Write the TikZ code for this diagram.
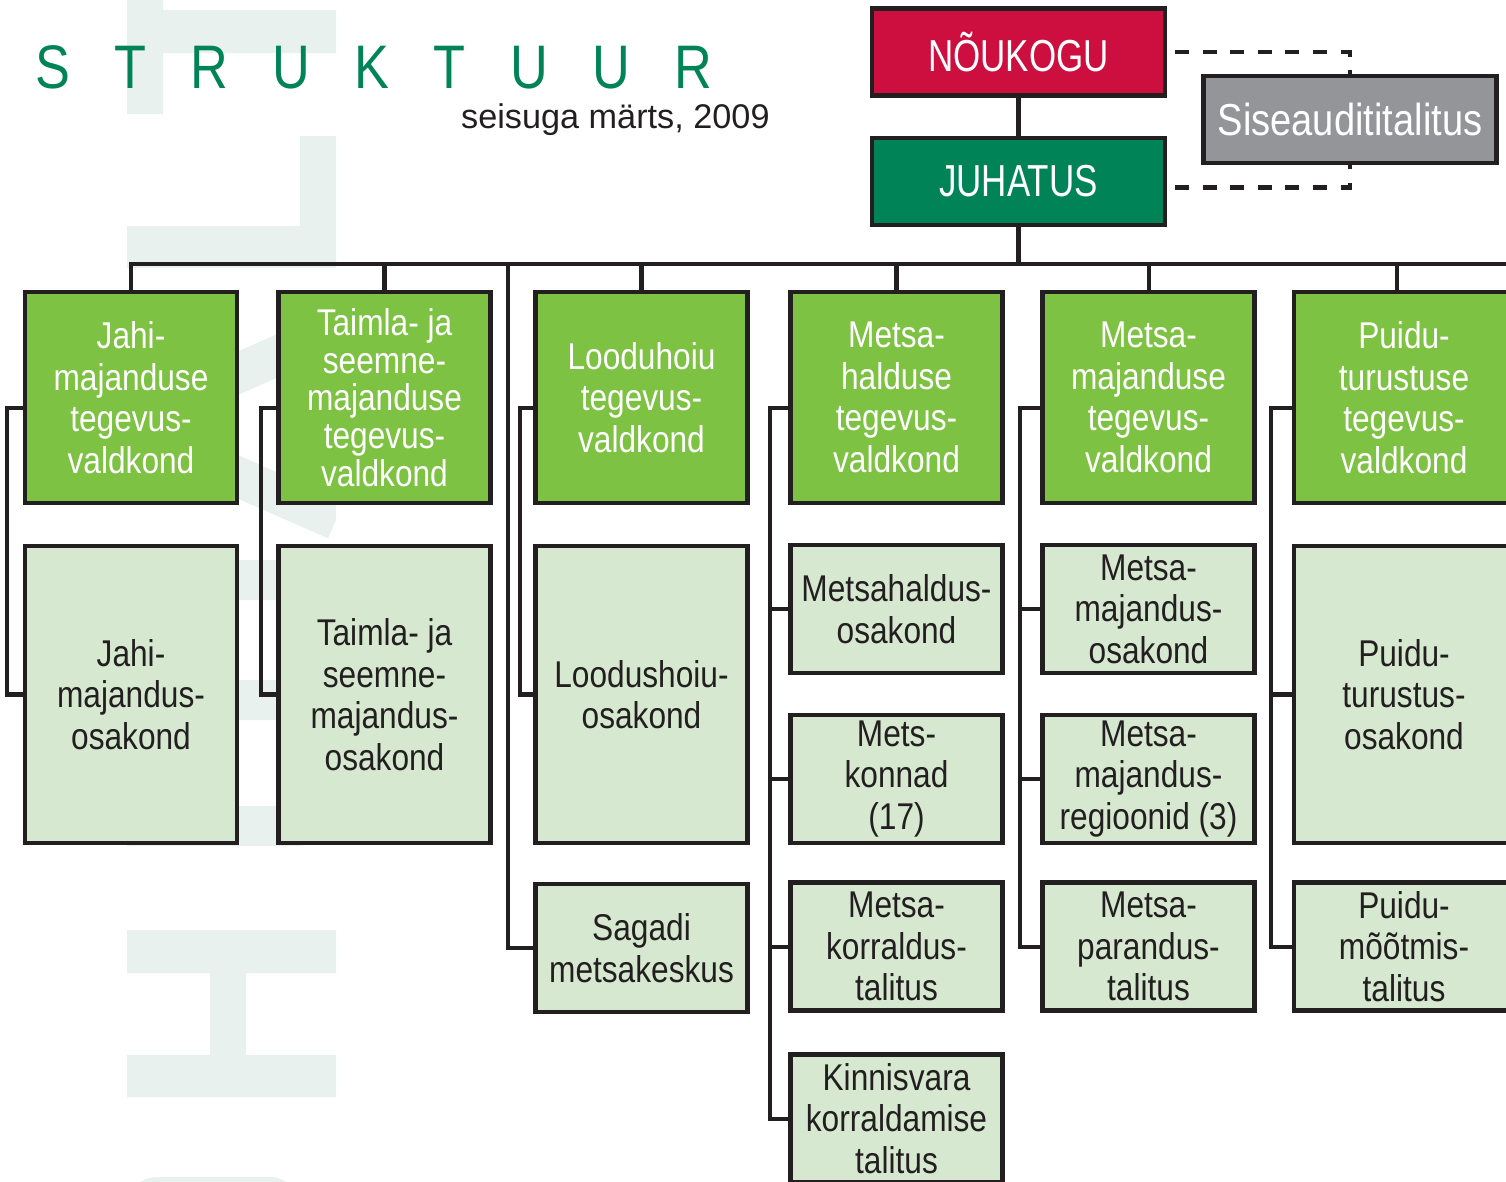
\documentclass[tikz,border=0pt]{standalone}
\usepackage{fontspec}
\setmainfont{Liberation Sans}
\newfontfamily\boxfont{Liberation Sans}[FakeStretch=0.85]
\newfontfamily\capsfont{Liberation Sans}[FakeStretch=0.78]
\newfontfamily\titlefont{Liberation Sans}[FakeStretch=0.85,LetterSpace=72]
\usetikzlibrary{positioning}
\definecolor{ink}{HTML}{231F20}
\definecolor{leaf}{HTML}{7DC242}
\definecolor{pale}{HTML}{D6E9D0}
\definecolor{forest}{HTML}{008457}
\definecolor{rmkred}{HTML}{CC0F3F}
\definecolor{steel}{HTML}{939598}
\definecolor{wmark}{HTML}{E8F1EE}
\tikzstyle{lead} = [draw=ink, line width=2.4pt, fill=leaf, text=white, minimum width=4.24cm, minimum height=4.22cm, inner sep=0pt, align=center, font=\boxfont\fontsize{21.2}{23.6}\selectfont]
\tikzstyle{dept} = [draw=ink, line width=2.4pt, fill=pale, text=ink, minimum width=4.24cm, minimum height=2.56cm, inner sep=0pt, align=center, font=\boxfont\fontsize{21.2}{23.6}\selectfont]
\tikzstyle{tall} = [dept, minimum height=5.94cm]
\tikzstyle{board} = [draw=ink, line width=2.4pt, text=white, minimum width=5.86cm, minimum height=1.74cm, inner sep=0pt, font=\capsfont\fontsize{25.5}{28}\selectfont]
\tikzstyle{link} = [draw=ink, line width=2.3pt]
\tikzstyle{audit} = [link, dash pattern=on 8pt off 7.7pt]

\begin{document}
\begin{tikzpicture}[x=0.02cm, y=-0.02cm]
    \useasboundingbox (0,0) rectangle (1506,1181);

    % Faint lettering behind the chart
    \begin{scope}
      \clip (127,0) rectangle (336,1181);
      \fill[wmark] (127,0) rectangle (163,114) (163,10) rectangle (336,53);
      \fill[wmark] (300,136) rectangle (336,226) (127,226) rectangle (336,268);
      \draw[wmark, line width=0.8cm] (336,330) -- (120,425) -- (336,520);
      \draw[wmark, line width=0.8cm, rounded corners=0.4cm] (336,580) -- (147,580) -- (147,700) -- (316,700) -- (316,826) -- (127,826);
      \fill[wmark] (127,930) rectangle (336,973) (127,1055) rectangle (336,1097) (210,973) rectangle (246,1055);
      \fill[wmark, rounded corners=0.6cm] (127,1177) rectangle (300,1260);
    \end{scope}

    % Heading
    \node[anchor=base west, inner sep=0pt, text=forest, font=\titlefont\fontsize{35}{35}\selectfont] (title) at (35,88) {STRUKTUUR};
    \node[anchor=base east, inner sep=0pt, text=ink, font=\fontsize{19.5}{20}\selectfont] (date) at (770,128) {seisuga märts, 2009};

    % Place nodes
    \node[board, fill=rmkred] (noukogu) at (1018.5,52) {NÕUKOGU};
    \node[board, fill=forest] (juhatus) at (1018.5,181.5) {JUHATUS};
    \node[board, fill=steel, font=\boxfont\fontsize{25.5}{28}\selectfont] (siseaudit) at (1350,119.5) {Siseaudititalitus};

    \node[lead] (jahi) at (131,397.5) {Jahi-\\majanduse\\tegevus-\\valdkond};
    \node[lead, font=\boxfont\fontsize{21.2}{21.5}\selectfont] (taimla) at (384.5,397.5) {Taimla- ja\\seemne-\\majanduse\\tegevus-\\valdkond};
    \node[lead] (looduhoiu) at (641.5,397.5) {Looduhoiu\\tegevus-\\valdkond};
    \node[lead] (metsahaldus) at (896.5,397.5) {Metsa-\\halduse\\tegevus-\\valdkond};
    \node[lead] (metsamaj) at (1148.5,397.5) {Metsa-\\majanduse\\tegevus-\\valdkond};
    \node[lead, minimum width=4.4cm] (puidu) at (1404,397.5) {Puidu-\\turustuse\\tegevus-\\valdkond};

    \node[tall] (jahiosak) at (131,694.5) {Jahi-\\majandus-\\osakond};
    \node[tall] (taimlaosak) at (384.5,694.5) {Taimla- ja\\seemne-\\majandus-\\osakond};
    \node[tall] (loodusosak) at (641.5,694.5) {Loodushoiu-\\osakond};
    \node[dept] (sagadi) at (641.5,948) {Sagadi\\metsakeskus};
    \node[dept] (haldosak) at (896.5,609) {Metsahaldus-\\osakond};
    \node[dept] (metskonnad) at (896.5,779) {Mets-\\konnad\\(17)};
    \node[dept] (korraldus) at (896.5,946.5) {Metsa-\\korraldus-\\talitus};
    \node[dept] (kinnisvara) at (896.5,1118.5) {Kinnisvara\\korraldamise\\talitus};
    \node[dept] (majosak) at (1148.5,609) {Metsa-\\majandus-\\osakond};
    \node[dept] (regioonid) at (1148.5,779) {Metsa-\\majandus-\\regioonid (3)};
    \node[dept] (parandus) at (1148.5,946.5) {Metsa-\\parandus-\\talitus};
    \node[tall, minimum width=4.4cm] (turustosak) at (1404,694.5) {Puidu-\\turustus-\\osakond};
    \node[dept, minimum width=4.4cm] (mootmis) at (1404,946.5) {Puidu-\\mõõtmis-\\talitus};

    % Draw edges
    \coordinate (busend) at (1520,264);
    \coordinate (sagadibus) at (508,264);
    \path[link] (noukogu) -- (juhatus);
    \path[link] (juhatus.south) -- (juhatus.south |- busend);
    \path[link] (jahi.north) |- (busend);
    \path[link] (taimla.north) -- (taimla.north |- busend);
    \path[link] (looduhoiu.north) -- (looduhoiu.north |- busend);
    \path[link] (metsahaldus.north) -- (metsahaldus.north |- busend);
    \path[link] (metsamaj.north) -- (metsamaj.north |- busend);
    \path[link] ([xshift=-0.14cm]puidu.north) -- ([xshift=-0.14cm]puidu.north |- busend);
    \path[link] (sagadibus) |- (sagadi.west);
    \path[audit] (noukogu.east) ++(8,0) -| (siseaudit.north);
    \path[audit] ([yshift=-0.12cm]juhatus.east) ++(8,0) -| (siseaudit.south);

    % Side links inside each column
    \path[link] ([yshift=-0.21cm]jahi.west) -- ++(-16,0) |- (jahiosak.west);
    \path[link] ([yshift=-0.21cm]taimla.west) -- ++(-15.5,0) |- (taimlaosak.west);
    \path[link] ([yshift=-0.21cm]looduhoiu.west) -- ++(-13.5,0) |- (loodusosak.west);
    \path[link] ([yshift=-0.21cm]metsahaldus.west) -- ++(-18.5,0) |- (kinnisvara.west);
    \path[link] (haldosak.west) -- ++(-18.5,0);
    \path[link] (metskonnad.west) -- ++(-18.5,0);
    \path[link] (korraldus.west) -- ++(-18.5,0);
    \path[link] ([yshift=-0.21cm]metsamaj.west) -- ++(-20.5,0) |- (parandus.west);
    \path[link] (majosak.west) -- ++(-20.5,0);
    \path[link] (regioonid.west) -- ++(-20.5,0);
    \path[link] ([yshift=-0.21cm]puidu.west) -- ++(-21,0) |- (mootmis.west);
    \path[link] (turustosak.west) -- ++(-21,0);
\end{tikzpicture}
\end{document}
